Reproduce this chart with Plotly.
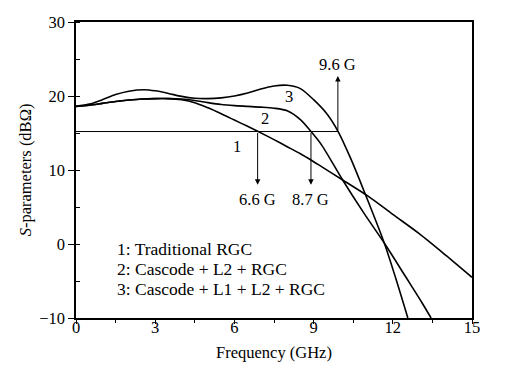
import plotly.graph_objects as go

# ---- data ----
freq_rgc = [0, 0.5, 1, 1.5, 2, 2.5, 3, 3.5, 4, 4.5, 5, 5.5, 6, 6.5, 6.9, 7.5, 8, 8.5, 8.9,
            9.3, 10.1, 11.05, 12, 13, 14, 15]
s_rgc = [18.6, 18.75, 19.0, 19.25, 19.45, 19.6, 19.65, 19.65, 19.5, 19.1, 18.4, 17.6, 16.75,
         15.9, 15.2, 14.1, 13.15, 12.2, 11.35, 10.45, 8.65, 6.5, 4.0, 1.4, -1.5, -4.5]

freq_l2 = [0, 0.5, 1, 1.5, 2, 2.5, 3, 3.5, 4, 4.5, 5, 5.5, 6, 6.5, 7, 7.5, 8, 8.5, 8.9,
           9.3, 10.1, 10.9, 11.7, 12.5, 13.1, 13.45]
s_l2 = [18.6, 18.75, 19.0, 19.25, 19.45, 19.6, 19.65, 19.65, 19.6, 19.4, 19.1, 18.85, 18.7,
        18.6, 18.5, 18.35, 18.0, 16.8, 15.2, 13.4, 8.65, 4.2, 0.0, -4.5, -7.9, -10]

freq_l1l2 = [0, 0.5, 1, 1.5, 2, 2.6, 3, 3.5, 4, 4.5, 5, 5.5, 6, 6.5, 7, 7.5, 8, 8.5, 9,
             9.5, 9.93, 10.4, 10.92, 11.68, 12.1, 12.57]
s_l1l2 = [18.6, 18.9, 19.5, 20.2, 20.65, 20.85, 20.7, 20.35, 19.95, 19.7, 19.65, 19.75, 20.0,
          20.4, 20.95, 21.35, 21.45, 21.0, 19.5, 17.6, 15.2, 11.6, 7.07, 0.1, -4.5, -10]

ref_level = 15.2
ref_freq = [0, 9.92]

cut_freqs = [6.88, 8.9, 9.92]
cut_ends = [8.0, 8.0, 22.7]
cut_labels = ["6.6 G", "8.7 G", "9.6 G"]
cut_label_y = [5.95, 5.95, 24.2]

curve_ids = ["1", "2", "3"]
curve_label_x = [6.11, 7.15, 8.07]
curve_label_y = [13.2, 17.0, 20.0]

legend_lines = ["1: Traditional RGC", "2: Cascode + L2 + RGC", "3: Cascode + L1 + L2 + RGC"]
legend_y = [-0.65, -3.35, -6.05]

x_ticks = [0, 3, 6, 9, 12, 15]
y_ticks = [-10, 0, 10, 20, 30]

FONT = "Liberation Serif"
FS = 16.5

fig = go.Figure()
line_style = dict(color="black", width=1.6, shape="spline", smoothing=0.8)
for fx, sy in [(freq_rgc, s_rgc), (freq_l2, s_l2), (freq_l1l2, s_l1l2)]:
    fig.add_trace(go.Scatter(x=fx, y=sy, mode="lines", line=line_style, showlegend=False,
                             hoverinfo="skip"))

fig.add_trace(go.Scatter(x=ref_freq, y=[ref_level, ref_level], mode="lines",
                         line=dict(color="black", width=1), showlegend=False, hoverinfo="skip"))

annotations = []
for f, e in zip(cut_freqs, cut_ends):
    annotations.append(dict(x=f, y=e, ax=f, ay=ref_level, axref="x", ayref="y",
                            xref="x", yref="y", text="", showarrow=True,
                            arrowhead=2, arrowsize=1.1, arrowwidth=1, arrowcolor="black",
                            standoff=0, startstandoff=0))
for f, lab, ly in zip(cut_freqs, cut_labels, cut_label_y):
    annotations.append(dict(x=f, y=ly, xref="x", yref="y", text=lab, showarrow=False,
                            font=dict(family=FONT, size=FS, color="black")))
for cid, cx, cy in zip(curve_ids, curve_label_x, curve_label_y):
    annotations.append(dict(x=cx, y=cy, xref="x", yref="y", text=cid, showarrow=False,
                            font=dict(family=FONT, size=FS, color="black")))
for txt, ly in zip(legend_lines, legend_y):
    annotations.append(dict(x=1.48, y=ly, xref="x", yref="y", text=txt, showarrow=False,
                            xanchor="left", font=dict(family=FONT, size=17.5, color="black")))

axis_common = dict(showgrid=False, zeroline=False, showline=True, linecolor="black",
                   linewidth=1.5, mirror=True, ticks="outside", tickcolor="black",
                   tickwidth=1.2, automargin=False,
                   tickfont=dict(family=FONT, size=FS, color="black"))

# the page body adds an 8px offset, so the figure is sized/margined to compensate
fig.update_layout(
    width=500, height=366,
    margin=dict(l=68, r=36, t=14, b=56),
    paper_bgcolor="white", plot_bgcolor="white",
    annotations=annotations,
    xaxis=dict(range=[0, 15], tickvals=x_ticks, ticklen=4, ticklabelstandoff=-11,
               minor=dict(dtick=1.5, ticks="outside", ticklen=3, tickcolor="black"),
               title=dict(text="Frequency (GHz)", font=dict(family=FONT, size=FS, color="black"),
                          standoff=11),
               **axis_common),
    yaxis=dict(range=[-10, 30], tickvals=y_ticks, ticklen=6,
               minor=dict(dtick=5, ticks="inside", ticklen=4, tickcolor="black"),
               title=dict(text="<i>S</i>-parameters (dBΩ)",
                          font=dict(family=FONT, size=FS, color="black"), standoff=3),
               **axis_common),
)

fig.write_html("out.html")
